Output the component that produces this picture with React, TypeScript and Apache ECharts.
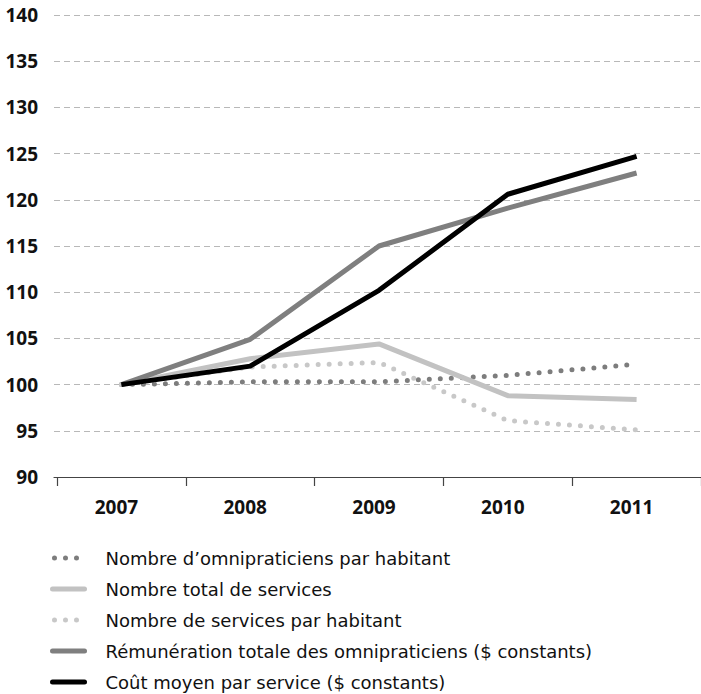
import React, { useEffect, useRef } from "react";
import * as echarts from "echarts";

const years = ["2007", "2008", "2009", "2010", "2011"];
const yTicks = { min: 90, max: 140, interval: 5 };

const seriesNames = [
  "Nombre d\u2019omnipraticiens par habitant",
  "Nombre total de services",
  "Nombre de services par habitant",
  "Rémunération totale des omnipraticiens ($ constants)",
  "Coût moyen par service ($ constants)",
];

const omnipraticiensParHabitant = [100, 100.3, 100.3, 101.0, 102.2];
const totalServices = [100, 102.8, 104.4, 98.8, 98.4];
const servicesParHabitant = [100, 101.9, 102.4, 96.1, 95.1];
const remunerationTotale = [100, 104.9, 115.0, 119.1, 122.9];
const coutMoyen = [100, 102.0, 110.2, 120.6, 124.7];

export default function App() {
  const ref = useRef<HTMLDivElement>(null);
  useEffect(() => {
    if (!ref.current) return;
    const chart = echarts.init(ref.current, undefined, { renderer: "svg" });
    const axisFont = "Open Sans";
    const textFont = "DejaVu Sans";
    const dotted = (color: string) => ({
      color,
      width: 5,
      type: [0, 11] as any,
      cap: "round" as const,
    });
    const solid = (color: string) => ({ color, width: 5, type: "solid" as const });
    const mk = (name: string, data: number[], lineStyle: any, color: string) => ({
      name,
      type: "line" as const,
      xAxisIndex: 1,
      yAxisIndex: 1,
      data,
      symbol: "none",
      showSymbol: false,
      color,
      lineStyle,
      emphasis: { disabled: true },
    });
    chart.setOption({
      animation: false,
      backgroundColor: "#ffffff",
      textStyle: { fontFamily: textFont },
      grid: [
        { left: 54, right: 0, top: 15, bottom: 217 },
        { left: 57, width: 655, top: 15, bottom: 217 },
      ],
      xAxis: [
        {
          gridIndex: 0,
          type: "category",
          data: years,
          axisLine: { show: true, lineStyle: { color: "#444", width: 1.2 } },
          axisTick: { show: false },
          axisLabel: { show: false },
          splitLine: { show: false },
        },
        {
          gridIndex: 1,
          type: "category",
          data: years,
          boundaryGap: true,
          axisLine: { show: false },
          axisTick: { show: true, length: 9, lineStyle: { color: "#444", width: 1.2 } },
          axisLabel: {
            show: true,
            margin: 20,
            fontFamily: axisFont,
            fontWeight: "bold",
            fontSize: 19,
            color: "#111",
            padding: [0, 10, 0, 0],
          },
          splitLine: { show: false },
        },
      ],
      yAxis: [
        {
          gridIndex: 0,
          type: "value",
          min: yTicks.min,
          max: yTicks.max,
          interval: yTicks.interval,
          axisLine: { show: false },
          axisTick: { show: false },
          axisLabel: {
            margin: 16,
            fontFamily: axisFont,
            fontWeight: "bold",
            fontSize: 19,
            color: "#111",
          },
          splitLine: {
            show: true,
            lineStyle: { color: "#b8b8b8", width: 1, type: [6, 4] },
          },
        },
        {
          gridIndex: 1,
          type: "value",
          min: yTicks.min,
          max: yTicks.max,
          interval: yTicks.interval,
          show: false,
          splitLine: { show: false },
        },
      ],
      legend: {
        orient: "vertical",
        left: 50,
        top: 548,
        height: 146,
        padding: 0,
        itemWidth: 32,
        itemHeight: 10,
        itemGap: 11,
        selectedMode: false,
        data: seriesNames,
        itemStyle: { opacity: 0 },
        lineStyle: { width: 5, cap: "round", dashOffset: -2 },
        textStyle: {
          fontFamily: textFont,
          fontSize: 18,
          color: "#111",
          lineHeight: 20,
          padding: [0, 0, 0, 16],
        },
      },
      series: [
        mk(seriesNames[0], omnipraticiensParHabitant, dotted("#7d7d7d"), "#7d7d7d"),
        mk(seriesNames[1], totalServices, solid("#c2c2c2"), "#c2c2c2"),
        mk(seriesNames[2], servicesParHabitant, dotted("#c8c8c8"), "#c8c8c8"),
        mk(seriesNames[3], remunerationTotale, solid("#7f7f7f"), "#7f7f7f"),
        mk(seriesNames[4], coutMoyen, solid("#000000"), "#000000"),
      ],
    });
    return () => chart.dispose();
  }, []);
  return (
    <div
      ref={ref}
      style={{ position: "fixed", left: 0, top: 0, width: 701, height: 694 }}
    />
  );
}
